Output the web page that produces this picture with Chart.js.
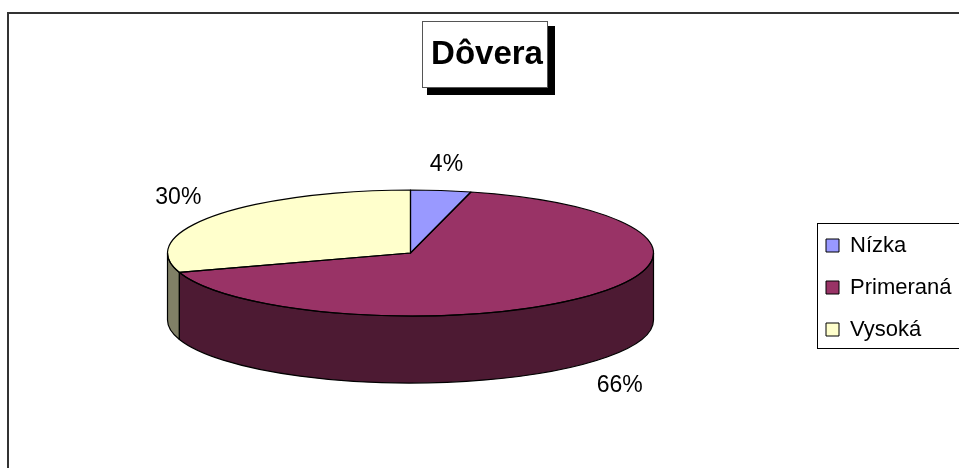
<!DOCTYPE html>
<html>
<head>
<meta charset="utf-8">
<title>Dôvera</title>
<script src="https://cdn.jsdelivr.net/npm/chart.js@4"></script>
<style>
  html, body { margin: 0; padding: 0; background: #fff; overflow: hidden; }
  canvas { display: block; }
</style>
</head>
<body>
<canvas id="pieChart" width="959" height="468"></canvas>
<script>
const titleText = "Dôvera";
const categories = ["Nízka", "Primeraná", "Vysoká"];
const values = [4, 66, 30];
const topColors = ["#9999FF", "#993366", "#FFFFCC"];
const wallColors = ["#4D4D80", "#4D1A33", "#808066"];

// where the flattened pie ends up on the page
const pie = { x: 410.5, y: 253, rx: 243, ry: 63, depth: 67, labelRx: 287, labelRy: 91.5 };
const labelNudgeY = [2, 3, -2];
const fontName = "'Liberation Sans', Arial, sans-serif";

function applyPieTransform(ctx, arc) {
  ctx.translate(pie.x, pie.y);
  ctx.scale(pie.rx / arc.outerRadius, pie.ry / arc.outerRadius);
  ctx.translate(-arc.x, -arc.y);
}

// wall of one slice, front half only. Returns false if the slice has no visible wall
function wallPath(ctx, arc) {
  const s = Math.max(arc.startAngle, 0);
  const e = Math.min(arc.endAngle, Math.PI);
  if (s >= e) return false;
  const r = arc.outerRadius;
  const down = pie.depth / (pie.ry / r);
  ctx.save();
  applyPieTransform(ctx, arc);
  ctx.beginPath();
  ctx.arc(arc.x, arc.y, r, s, e);
  ctx.lineTo(arc.x + r * Math.cos(e), arc.y + r * Math.sin(e) + down);
  ctx.arc(arc.x, arc.y + down, r, e, s, true);
  ctx.closePath();
  ctx.restore();
  return true;
}

const pie3d = {
  id: "pie3d",
  afterLayout(chart) {
    // title and legend sit at fixed spots, like the original boxes
    const t = chart.titleBlock;
    t.left = 423; t.right = 551;
    t.top = 55 - t.height / 2; t.bottom = t.top + t.height;
    const l = chart.legend;
    l.left = 806; l.right = l.left + l.width;
    l.top = 214.5; l.bottom = l.top + l.height;
  },
  beforeDraw(chart) {
    const ctx = chart.ctx;
    ctx.save();
    // outer frame, only top and left are inside the picture
    ctx.strokeStyle = "#333333";
    ctx.lineWidth = 2;
    ctx.beginPath();
    ctx.moveTo(8, 468);
    ctx.lineTo(8, 13);
    ctx.lineTo(959, 13);
    ctx.stroke();
    // title box with shadow
    ctx.fillStyle = "#000";
    ctx.fillRect(427, 26, 128, 69);
    ctx.fillStyle = "#fff";
    ctx.fillRect(422.5, 21.5, 125, 66);
    ctx.strokeStyle = "#555555";
    ctx.lineWidth = 1;
    ctx.strokeRect(422.5, 21.5, 125, 66);
    // legend box
    ctx.strokeStyle = "#000";
    ctx.strokeRect(817.5, 223.5, 160, 125);
    ctx.restore();
  },
  beforeDatasetsDraw(chart) {
    const ctx = chart.ctx;
    const arcs = chart.getDatasetMeta(0).data;
    arcs.forEach((arc, i) => {
      if (wallPath(ctx, arc)) {
        ctx.fillStyle = wallColors[i];
        ctx.fill();
      }
    });
    // the slices themselves get drawn flattened, undone in afterDatasetsDraw
    ctx.save();
    applyPieTransform(ctx, arcs[0]);
  },
  afterDatasetsDraw(chart) {
    const ctx = chart.ctx;
    const arcs = chart.getDatasetMeta(0).data;
    ctx.restore();

    ctx.save();
    ctx.strokeStyle = "#000";
    ctx.lineWidth = 1.2;
    ctx.lineJoin = "round";

    // path is built flattened, stroked unflattened so the line stays even
    arcs.forEach(arc => {
      if (wallPath(ctx, arc)) ctx.stroke();
      ctx.save();
      applyPieTransform(ctx, arc);
      ctx.beginPath();
      ctx.moveTo(arc.x, arc.y);
      ctx.arc(arc.x, arc.y, arc.outerRadius, arc.startAngle, arc.endAngle);
      ctx.closePath();
      ctx.restore();
      ctx.stroke();
    });

    // percent labels around the pie
    ctx.fillStyle = "#000";
    ctx.font = "23px " + fontName;
    ctx.textAlign = "center";
    ctx.textBaseline = "middle";
    const total = values.reduce((a, b) => a + b, 0);
    arcs.forEach((arc, i) => {
      const mid = (arc.startAngle + arc.endAngle) / 2;
      const lx = pie.x + pie.labelRx * Math.cos(mid);
      let ly = pie.y + pie.labelRy * Math.sin(mid) + labelNudgeY[i];
      if (Math.sin(mid) > 0) ly += pie.depth;
      ctx.fillText(Math.round(values[i] / total * 100) + "%", lx, ly);
    });
    ctx.restore();
  }
};

new Chart(document.getElementById("pieChart"), {
  type: "pie",
  data: {
    labels: categories,
    datasets: [{
      data: values,
      backgroundColor: topColors,
      borderWidth: 0,
      clip: false
    }]
  },
  options: {
    responsive: false,
    animation: false,
    events: [],
    layout: { padding: 20 },
    plugins: {
      tooltip: { enabled: false },
      title: {
        display: true,
        text: titleText,
        color: "#000",
        padding: 0,
        font: { family: fontName, size: 33, weight: "bold" }
      },
      legend: {
        position: "chartArea",
        align: "start",
        labels: {
          color: "#000",
          boxWidth: 13,
          boxHeight: 13,
          padding: 20,
          font: { family: fontName, size: 22 },
          generateLabels(chart) {
            return categories.map((name, i) => ({
              text: name,
              fillStyle: topColors[i],
              strokeStyle: "#000",
              lineWidth: 1,
              index: i
            }));
          }
        }
      }
    }
  },
  plugins: [pie3d]
});
</script>
</body>
</html>
